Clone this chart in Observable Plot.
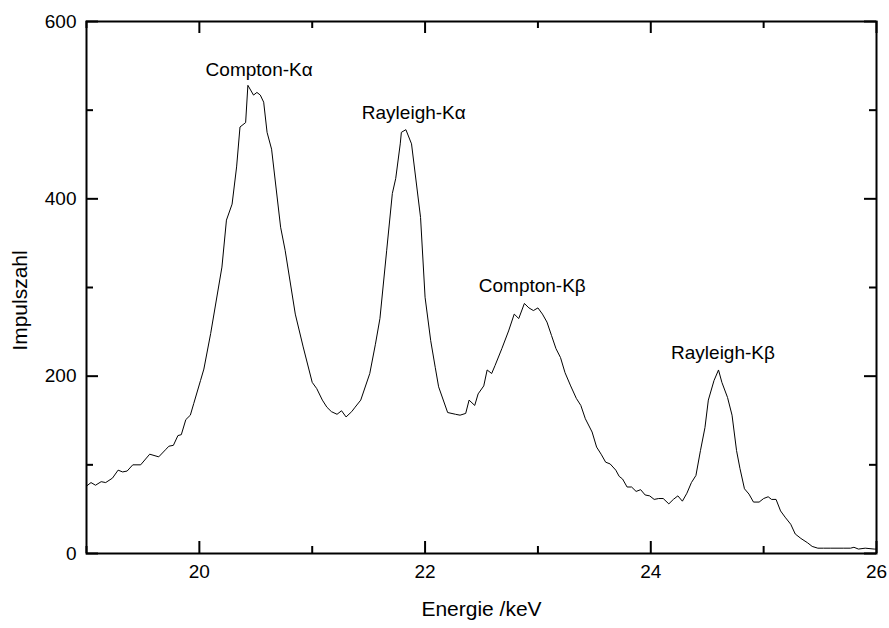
<!DOCTYPE html>
<html>
<head>
<meta charset="utf-8">
<script src="https://cdn.jsdelivr.net/npm/d3@7"></script>
<script src="https://cdn.jsdelivr.net/npm/@observablehq/plot@0.6"></script>
<style>
  html, body { margin: 0; padding: 0; background: #fff; }
  #chart { width: 889px; height: 628px; }
</style>
</head>
<body>
<div id="chart"></div>
<script>
// Spectrum
const energy = [
  19.00, 19.04, 19.08, 19.13, 19.17, 19.23, 19.28, 19.32, 19.36, 19.41,
  19.48, 19.56, 19.64, 19.70, 19.73, 19.77, 19.81, 19.84, 19.88, 19.92,
  19.95, 20.01, 20.04, 20.10, 20.20, 20.24, 20.29, 20.33, 20.36, 20.41,
  20.43, 20.48, 20.51, 20.54, 20.57, 20.60, 20.64, 20.72, 20.76, 20.85,
  20.92, 21.00, 21.04, 21.09, 21.13, 21.17, 21.22, 21.26, 21.30, 21.35,
  21.38, 21.43, 21.51, 21.56, 21.60, 21.66, 21.71, 21.74, 21.78, 21.79,
  21.83, 21.88, 21.96, 22.00, 22.05, 22.09, 22.12, 22.20, 22.27, 22.31,
  22.36, 22.39, 22.44, 22.47, 22.52, 22.55, 22.59, 22.62, 22.68, 22.74,
  22.79, 22.83, 22.88, 22.92, 22.96, 23.00, 23.04, 23.08, 23.12, 23.16,
  23.20, 23.24, 23.29, 23.34, 23.38, 23.42, 23.48, 23.52, 23.56, 23.60,
  23.64, 23.69, 23.72, 23.75, 23.79, 23.83, 23.87, 23.91, 23.95, 23.99,
  24.03, 24.07, 24.11, 24.16, 24.20, 24.24, 24.28, 24.32, 24.36, 24.40,
  24.44, 24.48, 24.51, 24.56, 24.60, 24.63, 24.68, 24.72, 24.76, 24.79,
  24.83, 24.87, 24.91, 24.96, 25.00, 25.04, 25.07, 25.11, 25.15, 25.19,
  25.24, 25.28, 25.33, 25.39, 25.43, 25.48, 25.53, 25.59, 25.65, 25.71,
  25.77, 25.80, 25.84, 25.90, 25.98, 26.00
];
const counts = [
  76, 80, 77, 81, 80, 85, 94, 92, 93, 100,
  100, 112, 109, 117, 121, 122, 133, 134, 151, 156,
  169, 195, 208, 248, 323, 376, 394, 436, 481, 486,
  528, 517, 520, 517, 509, 475, 456, 368, 342, 270,
  233, 193, 186, 173, 165, 160, 157, 161, 154, 160,
  165, 173, 203, 236, 265, 342, 406, 423, 462, 475,
  478, 462, 379, 289, 240, 210, 188, 159, 157, 156,
  158, 173, 167, 180, 189, 207, 203, 212, 231, 251,
  270, 265, 282, 277, 274, 277, 270, 261, 246, 231,
  221, 204, 189, 175, 167, 152, 137, 120, 112, 103,
  101, 94, 87, 84, 75, 75, 70, 72, 66, 65,
  61, 62, 62, 56, 61, 65, 59, 68, 80, 88,
  116, 142, 173, 195, 207, 193, 176, 156, 116, 96,
  73, 67, 58, 58, 62, 64, 61, 61, 48, 41,
  33, 22, 17, 12, 8, 6, 6, 6, 6, 6,
  6, 7, 5, 6, 5, 5
];

// Peak annotations
const peakNames = ["Compton-Kα", "Rayleigh-Kα", "Compton-Kβ", "Rayleigh-Kβ"];
const peakEnergy = [20.53, 21.90, 22.95, 24.64];
const peakLabelCounts = [545, 497, 302, 226];

// Axis ticks
const xMajor = [20, 22, 24, 26];
const xMinor = [19, 21, 23, 25];
const yMajor = [0, 200, 400, 600];
const yMinor = [100, 300, 500];

const xTitle = "Energie /keV";
const yTitle = "Impulszahl";

const spectrum = energy.map((e, i) => ({ energy: e, counts: counts[i] }));
const peaks = peakNames.map((n, i) => ({ name: n, energy: peakEnergy[i], counts: peakLabelCounts[i] }));

const W = 889, H = 628;
const mL = 86, mR = 13, mT = 21, mB = 75;
const innerW = W - mL - mR, innerH = H - mT - mB;
const majorLen = 12, minorLen = 7;
const font = "'Liberation Sans', Arial, sans-serif";

const tickStyle = { stroke: "black", strokeWidth: 2 };

const chart = Plot.plot({
  width: W,
  height: H,
  marginLeft: mL,
  marginRight: mR,
  marginTop: mT,
  marginBottom: mB,
  style: { fontFamily: font, fontSize: "19px", background: "white", color: "black" },
  x: { domain: [19, 26] },
  y: { domain: [0, 600] },
  marks: [
    Plot.axisX(xMajor, { tickSize: 0, tickPadding: 11, fontSize: 19, label: null }),
    Plot.axisY(yMajor, { tickSize: 0, tickPadding: 10, fontSize: 19, label: null }),
    // inward ticks: bottom & top
    Plot.tickX(xMajor, { x: d => d, insetTop: innerH - majorLen, ...tickStyle }),
    Plot.tickX(xMinor, { x: d => d, insetTop: innerH - minorLen, ...tickStyle }),
    Plot.tickX(xMajor, { x: d => d, insetBottom: innerH - majorLen, ...tickStyle }),
    Plot.tickX(xMinor, { x: d => d, insetBottom: innerH - minorLen, ...tickStyle }),
    // inward ticks: left & right
    Plot.tickY(yMajor, { y: d => d, insetRight: innerW - majorLen, ...tickStyle }),
    Plot.tickY(yMinor, { y: d => d, insetRight: innerW - minorLen, ...tickStyle }),
    Plot.tickY(yMajor, { y: d => d, insetLeft: innerW - majorLen, ...tickStyle }),
    Plot.tickY(yMinor, { y: d => d, insetLeft: innerW - minorLen, ...tickStyle }),
    Plot.line(spectrum, { x: "energy", y: "counts", stroke: "black", strokeWidth: 1, clip: true }),
    Plot.text(peaks, { x: "energy", y: "counts", text: "name", fontSize: 19, fill: "black", textAnchor: "middle", lineAnchor: "middle" }),
    Plot.text([xTitle], { frameAnchor: "bottom", dy: 56, fontSize: 21, fill: "black", textAnchor: "middle", lineAnchor: "middle" }),
    Plot.text([yTitle], { frameAnchor: "middle", rotate: -90, dx: -461, dy: 13, fontSize: 21, fill: "black", textAnchor: "middle", lineAnchor: "middle" }),
    Plot.frame({ stroke: "black", strokeWidth: 2 })
  ]
});

document.getElementById("chart").appendChild(chart);
</script>
</body>
</html>
